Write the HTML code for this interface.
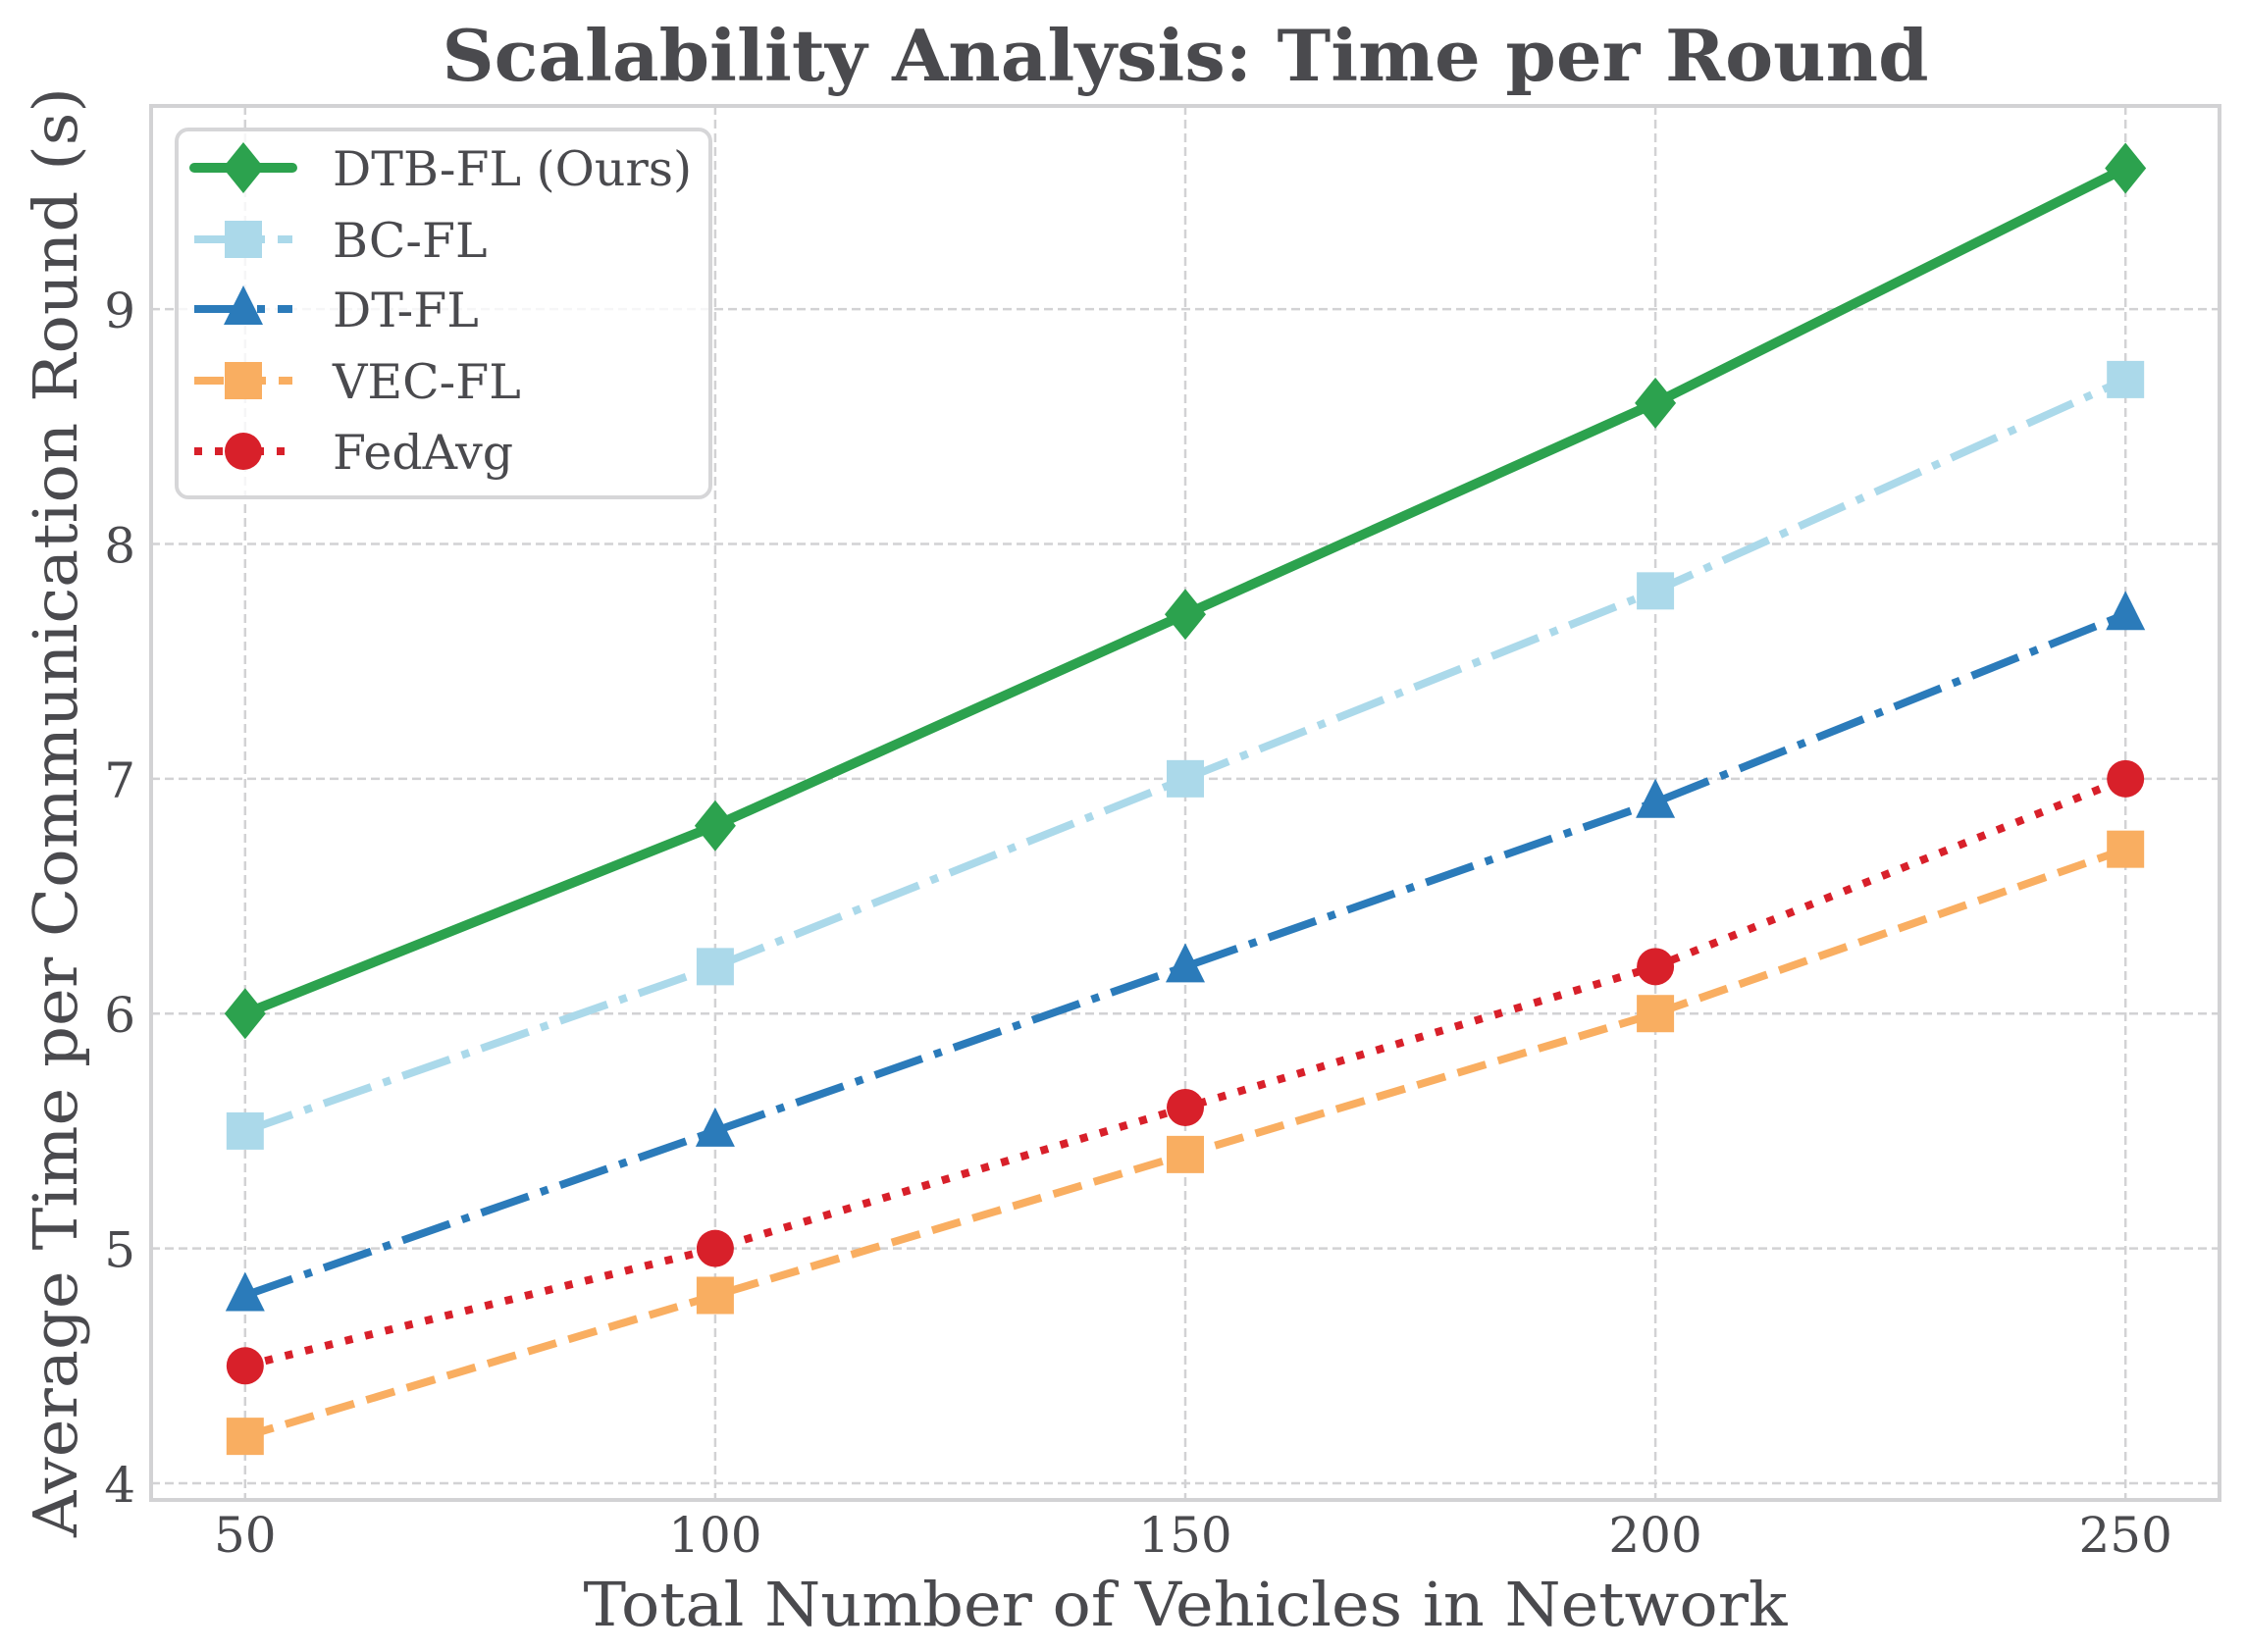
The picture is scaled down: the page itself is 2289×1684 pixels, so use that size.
<!DOCTYPE html>
<html><head><meta charset="utf-8"><style>
html,body{margin:0;padding:0;background:#fff}
svg{display:block}
text{font-family:"DejaVu Serif","Liberation Serif",serif;fill:#4a4a4e}
</style></head><body>
<svg id="chart" width="2289" height="1684" viewBox="0 0 2289 1684" xmlns="http://www.w3.org/2000/svg">
<g id="grid"></g>
<g id="series"></g>
<rect x="154" y="108" width="2108" height="1421" fill="none" stroke="#d2d2d4" stroke-width="4"/>
<g id="ticks"></g>
<text x="1208" y="82" font-size="72" font-weight="bold" text-anchor="middle" textLength="1515" lengthAdjust="spacingAndGlyphs">Scalability Analysis: Time per Round</text>
<text x="1208" y="1657" font-size="62" text-anchor="middle" textLength="1227" lengthAdjust="spacingAndGlyphs">Total Number of Vehicles in Network</text>
<text transform="translate(78,828) rotate(-90)" font-size="62" text-anchor="middle" textLength="1478" lengthAdjust="spacingAndGlyphs">Average Time per Communication Round (s)</text>
<g id="legend"></g>
</svg>
<script>
const categories = [50, 100, 150, 200, 250];
const seriesNames = ["DTB-FL (Ours)", "BC-FL", "DT-FL", "VEC-FL", "FedAvg"];
const dtbfl = [6.0, 6.8, 7.7, 8.6, 9.6];
const bcfl = [5.5, 6.2, 7.0, 7.8, 8.7];
const dtfl = [4.8, 5.5, 6.2, 6.9, 7.7];
const vecfl = [4.2, 4.8, 5.4, 6.0, 6.7];
const fedavg = [4.5, 5.0, 5.6, 6.2, 7.0];
const xTicks = [50, 100, 150, 200, 250];
const yTicks = [4, 5, 6, 7, 8, 9];

const NS = "http://www.w3.org/2000/svg";
const X0 = 154, X1 = 2262, Y0 = 108, Y1 = 1529;
const xMin = 40, xMax = 260, yMin = 3.929, yMax = 9.865;
function xs(v){ return X0 + (v - xMin) / (xMax - xMin) * (X1 - X0); }
function ys(v){ return Y1 - (v - yMin) / (yMax - yMin) * (Y1 - Y0); }
function mk(tag, attrs, parent){ const e = document.createElementNS(NS, tag); for (const k in attrs) e.setAttribute(k, attrs[k]); parent.appendChild(e); return e; }

const grid = document.getElementById('grid');
const ticks = document.getElementById('ticks');
xTicks.forEach(t => {
  const l = mk('line', {x1: xs(t), x2: xs(t), y1: Y0, y2: Y1, stroke: '#d2d2d4', 'stroke-width': 2.5, 'stroke-dasharray': '9,5'}, grid);
  
  
  const tx = mk('text', {x: xs(t), y: 1582, 'font-size': 50, 'text-anchor': 'middle'}, ticks);
  tx.textContent = t;
  
  
});
yTicks.forEach(t => {
  const l = mk('line', {x1: X0, x2: X1, y1: ys(t), y2: ys(t), stroke: '#d2d2d4', 'stroke-width': 2.5, 'stroke-dasharray': '9,5'}, grid);
  
  
  const tx = mk('text', {x: 138, y: ys(t) + 19, 'font-size': 50, 'text-anchor': 'end'}, ticks);
  tx.textContent = t;
  
  
});

const styles = [
  {data: dtbfl, color: '#2ca24e', lw: 10, dash: null, marker: 'diamond', cap: 'round'},
  {data: bcfl, color: '#abd9ea', lw: 8, dash: '51,13,8,13', marker: 'square', cap: 'butt'},
  {data: dtfl, color: '#2b7bba', lw: 8, dash: '51,13,8,13', marker: 'triangle', cap: 'butt'},
  {data: vecfl, color: '#f9ae61', lw: 8, dash: '30,13', marker: 'square', cap: 'butt'},
  {data: fedavg, color: '#d8202a', lw: 8, dash: '8,13', marker: 'circle', cap: 'butt'}
];
function marker(type, cx, cy, color, parent){
  let m;
  if (type === 'diamond') m = mk('polygon', {points: `${cx},${cy-26} ${cx+21},${cy} ${cx},${cy+26} ${cx-21},${cy}`, fill: color}, parent);
  else if (type === 'square') m = mk('rect', {x: cx-19, y: cy-19, width: 38, height: 38, fill: color}, parent);
  else if (type === 'triangle') m = mk('polygon', {points: `${cx},${cy-24} ${cx+20},${cy+16} ${cx-20},${cy+16}`, fill: color}, parent);
  else m = mk('circle', {cx: cx, cy: cy, r: 19, fill: color}, parent);
  return m;
}
const seriesG = document.getElementById('series');
const order = [4, 3, 2, 1, 0];
const names = ['dtb-fl', 'bc-fl', 'dt-fl', 'vec-fl', 'fedavg'];
styles.forEach((s, i) => {
  const g = mk('g', {}, seriesG);
  
  
  const pts = categories.map((c, j) => xs(c) + ',' + ys(s.data[j])).join(' ');
  const attrs = {points: pts, fill: 'none', stroke: s.color, 'stroke-width': s.lw, 'stroke-linecap': s.cap, 'stroke-linejoin': 'round'};
  if (s.dash) attrs['stroke-dasharray'] = s.dash;
  const pl = mk('polyline', attrs, g);
  
  
  categories.forEach((c, j) => {
    const m = marker(s.marker, xs(c), ys(s.data[j]), s.color, g);
    
    
  });
});

const legend = document.getElementById('legend');
const box = mk('rect', {x: 180, y: 132, width: 544, height: 375, rx: 12, fill: 'rgba(255,255,255,0.8)', stroke: '#d6d6d8', 'stroke-width': 4}, legend);


const ly = [171, 244, 315, 388, 460];
styles.forEach((s, i) => {
  const g = mk('g', {}, legend);
  
  
  const attrs = {x1: 198, x2: 298, y1: ly[i], y2: ly[i], stroke: s.color, 'stroke-width': s.lw, 'stroke-linecap': s.cap};
  if (s.dash) attrs['stroke-dasharray'] = s.dash;
  const ln = mk('line', attrs, g);
  
  
  const m = marker(s.marker, 248, ly[i], s.color, g);
  
  
  const t = mk('text', {x: 339, y: ly[i] + 18, 'font-size': 49}, g);
  t.textContent = seriesNames[i];
  
  
});
</script>
</body></html>
